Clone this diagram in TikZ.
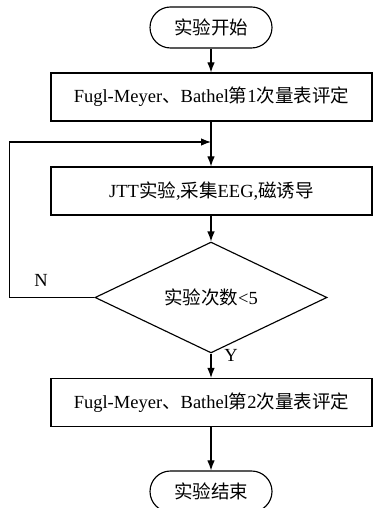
\documentclass[tikz,border=0pt]{standalone}
\usepackage{fontspec}
\setmainfont{Liberation Serif}
\newfontfamily\cjk{Noto Sans CJK SC}
\usetikzlibrary{arrows.meta,shapes.geometric}

\tikzset{
    flowtext/.style = {font=\fontsize{18.5pt}{22pt}\selectfont},
    terminal/.style = {flowtext, draw, line width = 0.4mm, rectangle, rounded corners = 20.5pt,
                       minimum width = 122pt, minimum height = 41pt, inner sep = 0pt},
    process/.style  = {flowtext, draw, line width = 0.4mm, rectangle,
                       minimum width = 321pt, minimum height = 48pt, inner sep = 0pt},
    decision/.style = {flowtext, draw, line width = 0.4mm, diamond,
                       minimum width = 232pt, minimum height = 72pt, inner sep = 0pt},
    flow/.style     = {line width = 0.4mm, -{Latex[length=10pt,width=7.5pt]}}
}

\begin{document}
\begin{tikzpicture}[x=1pt,y=1pt]
            
            \useasboundingbox (0,0) rectangle (375,508);
            
            \node[terminal] (start) at (211,480.5) {\cjk 实验开始};
            \node[process]  (eval1) at (211.5,411) {Fugl-Meyer{\cjk 、}Bathel{\cjk 第}1{\cjk 次量表评定}};
            \node[process]  (jtt)   at (211.5,317) {JTT{\cjk 实验},{\cjk 采集}EEG,{\cjk 磁诱导}};
            \node[decision] (check) at (211,210.5) {{\cjk 实验次数}<5};
            \node[process]  (eval2) at (211.5,105.5) {Fugl-Meyer{\cjk 、}Bathel{\cjk 第}2{\cjk 次量表评定}};
            \node[terminal] (stop)  at (211,16.5) {\cjk 实验结束};
            
            \coordinate (join) at (211,366);
            \coordinate (back) at (9.5,366);
            
            \draw[flow] (start) -- (start |- eval1.north);
            \draw[flow] (eval1.south -| start) -- (jtt.north -| start);
            \draw[flow] (jtt.south -| start) -- (check.north);
            \draw[flow] (check.south) -- (eval2.north -| start);
            \draw[flow] (eval2.south -| start) -- (stop.north);
            
            \draw[flow] (check.west) -| (back) -- (join);
            
            \node[flowtext] (no)  at (41,228) {N};
            \node[flowtext] (yes) at (231,153) {Y};
            
        \end{tikzpicture}
\end{document}
